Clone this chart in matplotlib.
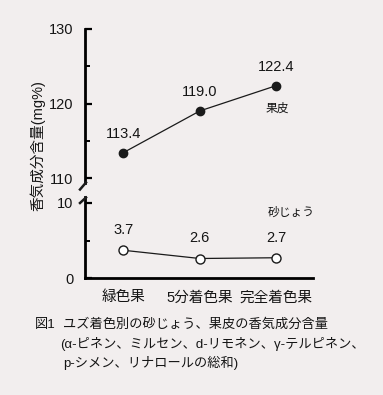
import matplotlib
matplotlib.use("Agg")
import matplotlib.pyplot as plt
from matplotlib.lines import Line2D
from matplotlib.ticker import MultipleLocator

plt.rcParams['font.family'] = ['Liberation Sans', 'Noto Sans CJK JP', 'DejaVu Sans']
plt.rcParams['text.color'] = '#151515'
plt.rcParams['ytick.labelcolor'] = '#151515'
plt.rcParams['xtick.labelcolor'] = '#151515'

categories = ['緑色果', '5分着色果', '完全着色果']
peel = [113.4, 119.0, 122.4]
pulp = [3.7, 2.6, 2.7]
peel_labels = ['113.4', '119.0', '122.4']
pulp_labels = ['3.7', '2.6', '2.7']

W, H = 383, 395
BG = '#f2eeee'
fig = plt.figure(figsize=(W / 100, H / 100), dpi=100, facecolor=BG)

def px(x0, y0, x1, y1):
    # pixel box (left, top, right, bottom) -> figure fraction rect
    return [x0 / W, 1 - y1 / H, (x1 - x0) / W, (y1 - y0) / H]

ax_top = fig.add_axes(px(85, 29, 313, 182.5))
ax_bot = fig.add_axes(px(85, 197, 313, 278))
x = list(range(len(categories)))

for ax in (ax_top, ax_bot):
    ax.set_facecolor('none')
    ax.set_xlim(-0.5, 2.48)
    for s in ('top', 'right'):
        ax.spines[s].set_visible(False)
    ax.spines['left'].set_linewidth(2.0)
    ax.tick_params(axis='y', which='major', direction='in', length=5, width=1.6,
                   labelsize=10.5, pad=8.5)
    ax.tick_params(axis='y', which='minor', direction='in', length=3.5, width=1.4)

ax_top.set_ylim(109.4, 130)
ax_top.set_yticks([110, 120, 130])
ax_top.yaxis.set_minor_locator(MultipleLocator(5))
ax_top.spines['bottom'].set_visible(False)
ax_top.set_xticks([])

ax_bot.set_ylim(0, 10.8)
ax_bot.set_yticks([0, 10])
ax_bot.yaxis.set_minor_locator(MultipleLocator(5))
ax_bot.spines['bottom'].set_linewidth(2.0)
ax_bot.set_xticks(x)
ax_bot.set_xticklabels(categories, fontsize=10.5)
ax_bot.tick_params(axis='x', length=0, pad=9)

ax_top.plot(x, peel, color='#1a1a1a', lw=0.9, marker='o', ms=6,
            mfc='#1a1a1a', mec='#1a1a1a')
ax_bot.plot(x, pulp, color='#1a1a1a', lw=0.9, marker='o', ms=6.5,
            mfc='white', mec='#1a1a1a', mew=1.0)

for xi, v, t in zip(x, peel, peel_labels):
    ax_top.annotate(t, (xi, v), xytext=(0, 13.5), textcoords='offset points',
                    ha='center', va='center', fontsize=10.5)
for xi, v, t in zip(x, pulp, pulp_labels):
    ax_bot.annotate(t, (xi, v), xytext=(0, 14.5), textcoords='offset points',
                    ha='center', va='center', fontsize=10.5)

ax_top.text(2.02, 119.3, '果皮', ha='center', va='center', fontsize=8.5)
ax_bot.text(2.2, 8.7, '砂じょう', ha='center', va='center', fontsize=8.5)

# break marks
def fline(p0, p1, lw=1.8):
    fig.add_artist(Line2D([p0[0] / W, p1[0] / W], [1 - p0[1] / H, 1 - p1[1] / H],
                          transform=fig.transFigure, color='#1a1a1a', lw=lw))
fline((86, 182.5), (80, 189.5))
fline((86, 197.5), (80, 203))

fig.text(38 / W, 1 - 146 / H, '香気成分含量(mg%)', rotation=90, ha='center',
         va='center', fontsize=10.5)

fig.text(35 / W, 1 - 325 / H, '図1', ha='left', va='center', fontsize=9.5)
fig.text(63 / W, 1 - 325 / H, 'ユズ着色別の砂じょう、果皮の香気成分含量',
         ha='left', va='center', fontsize=9.5)
fig.text(60 / W, 1 - 344 / H, '(α-ピネン、ミルセン、d-リモネン、γ-テルピネン、',
         ha='left', va='center', fontsize=9.5)
fig.text(63 / W, 1 - 363 / H, 'p-シメン、リナロールの総和)',
         ha='left', va='center', fontsize=9.5)

fig.savefig('out.png', dpi=100, facecolor=BG)
